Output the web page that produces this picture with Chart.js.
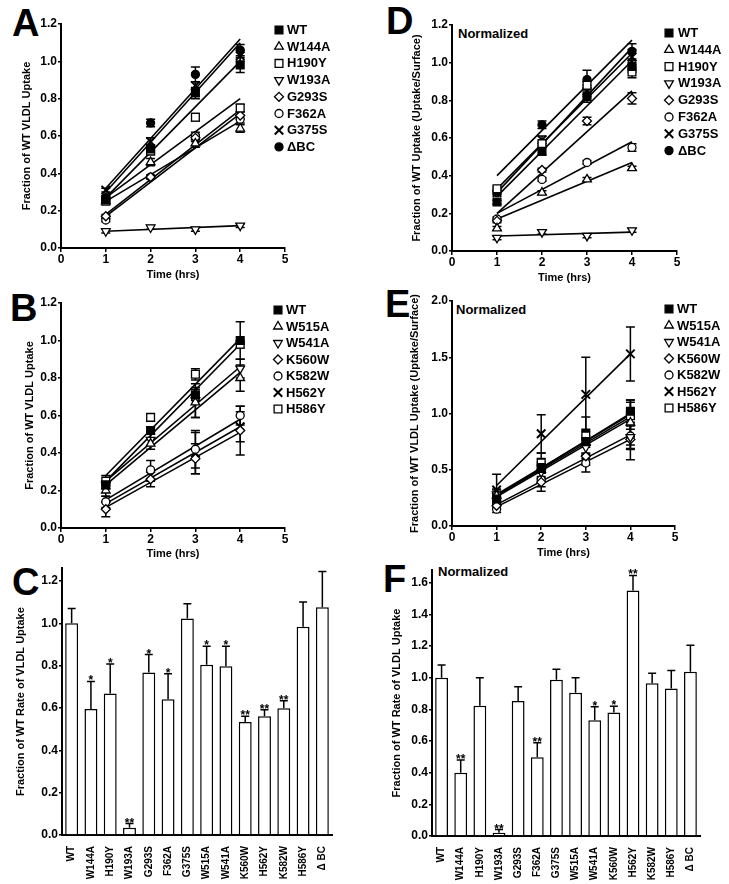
<!DOCTYPE html>
<html lang="en">
<head>
<meta charset="UTF-8" />
<title>VLDL uptake by receptor mutants</title>
<script src="https://cdn.jsdelivr.net/npm/chart.js"></script>
<style>
  * { margin: 0; padding: 0; box-sizing: border-box; }
  body { width: 729px; height: 884px; background: #fff; position: relative; overflow: hidden;
         font-family: 'Liberation Sans', Arial, Helvetica, sans-serif; color: #000; }
  canvas { position: absolute; }
  .letter { position: absolute; font-size: 38px; font-weight: bold; line-height: 1; }
  .note { position: absolute; font-size: 13px; font-weight: bold; line-height: 1; }
  .key { position: absolute; font-size: 13px; font-weight: bold; line-height: 16px; white-space: nowrap; }
</style>
</head>
<body>

<div class="letter" style="left:12px; top:4px;">A</div>
<div class="letter" style="left:10px; top:289px;">B</div>
<div class="letter" style="left:12px; top:563px;">C</div>
<div class="letter" style="left:386px; top:2px;">D</div>
<div class="letter" style="left:385px; top:285px;">E</div>
<div class="letter" style="left:383px; top:560px;">F</div>
<div class="note" style="left:458px; top:27px;">Normalized</div>
<div class="note" style="left:456px; top:303px;">Normalized</div>
<div class="note" style="left:438px; top:565px;">Normalized</div>

<script>
  // ---- data ----
  const hours = [1, 2, 3, 4];
  const fitHours = [1, 4];
  const hourTicks = [0, 1, 2, 3, 4, 5];
  const uptakeTicks = [0, 0.2, 0.4, 0.6, 0.8, 1.0, 1.2];
  const uptakeTicksE = [0, 0.5, 1.0, 1.5, 2.0];
  const rateTicksF = [0, 0.2, 0.4, 0.6, 0.8, 1.0, 1.2, 1.4, 1.6];

  // A: raw uptake, first group of mutants
  const namesA = ['WT', 'W144A', 'H190Y', 'W193A', 'G293S', 'F362A', 'G375S', 'ΔBC'];
  const meansA = [
    [0.26, 0.53, 0.83, 0.98],
    [0.25, 0.46, 0.56, 0.64],
    [0.25, 0.52, 0.70, 0.75],
    [0.09, 0.11, 0.10, 0.12],
    [0.17, 0.38, 0.59, 0.71],
    [0.15, 0.38, 0.60, 0.69],
    [0.31, 0.57, 0.87, 1.03],
    [0.27, 0.67, 0.93, 1.06]
  ];
  const errA = [
    [0.01, 0.02, 0.03, 0.04],
    [0.01, 0.02, 0.02, 0.02],
    [0.01, 0.02, 0.02, 0.02],
    [0.01, 0.01, 0.01, 0.01],
    [0.01, 0.01, 0.02, 0.02],
    [0.01, 0.01, 0.02, 0.02],
    [0.01, 0.02, 0.02, 0.03],
    [0.01, 0.02, 0.04, 0.03]
  ];
  const fitLoA = [0.27, 0.25, 0.27, 0.09, 0.18, 0.17, 0.32, 0.30];
  const fitHiA = [1.00, 0.68, 0.80, 0.12, 0.74, 0.72, 1.12, 1.10];

  // D: normalized uptake, same mutants
  const meansD = [
    [0.26, 0.53, 0.82, 0.98],
    [0.12, 0.31, 0.38, 0.44],
    [0.33, 0.57, 0.88, 0.95],
    [0.07, 0.10, 0.08, 0.11],
    [0.16, 0.43, 0.69, 0.81],
    [0.17, 0.38, 0.47, 0.55],
    [0.31, 0.59, 0.85, 1.03],
    [0.31, 0.67, 0.91, 1.06]
  ];
  const errD = [
    [0.01, 0.02, 0.03, 0.03],
    [0.01, 0.01, 0.01, 0.01],
    [0.01, 0.01, 0.02, 0.03],
    [0.01, 0.01, 0.01, 0.01],
    [0.01, 0.01, 0.02, 0.03],
    [0.01, 0.01, 0.01, 0.02],
    [0.01, 0.02, 0.03, 0.04],
    [0.01, 0.02, 0.05, 0.04]
  ];
  const fitLoD = [0.29, 0.17, 0.33, 0.08, 0.20, 0.20, 0.31, 0.40];
  const fitHiD = [1.01, 0.47, 1.05, 0.10, 0.85, 0.58, 1.08, 1.12];

  // B: raw uptake, second group
  const namesB = ['WT', 'W515A', 'W541A', 'K560W', 'K582W', 'H562Y', 'H586Y'];
  const meansB = [
    [0.23, 0.52, 0.71, 1.00],
    [0.20, 0.45, 0.67, 0.80],
    [0.23, 0.47, 0.68, 0.85],
    [0.10, 0.26, 0.37, 0.52],
    [0.14, 0.31, 0.42, 0.60],
    [0.12, 0.28, 0.40, 0.54],
    [0.25, 0.59, 0.82, 0.98]
  ];
  const errB = [
    [0.02, 0.02, 0.03, 0.10],
    [0.03, 0.03, 0.08, 0.07],
    [0.02, 0.03, 0.09, 0.05],
    [0.04, 0.04, 0.08, 0.13],
    [0.03, 0.05, 0.10, 0.05],
    [0.02, 0.03, 0.11, 0.08],
    [0.03, 0.02, 0.03, 0.02]
  ];
  const fitLoB = [0.25, 0.23, 0.25, 0.11, 0.15, 0.13, 0.28];
  const fitHiB = [0.98, 0.83, 0.86, 0.51, 0.58, 0.54, 1.01];

  // E: normalized uptake, second group
  const meansE = [
    [0.24, 0.52, 0.75, 1.02],
    [0.27, 0.50, 0.74, 0.92],
    [0.28, 0.48, 0.70, 0.79],
    [0.18, 0.39, 0.62, 0.77],
    [0.15, 0.41, 0.56, 0.80],
    [0.32, 0.82, 1.17, 1.53],
    [0.22, 0.56, 0.80, 0.98]
  ];
  const errE = [
    [0.04, 0.08, 0.10, 0.10],
    [0.05, 0.07, 0.12, 0.20],
    [0.05, 0.06, 0.10, 0.10],
    [0.03, 0.08, 0.08, 0.18],
    [0.03, 0.06, 0.08, 0.12],
    [0.14, 0.17, 0.33, 0.24],
    [0.04, 0.09, 0.17, 0.12]
  ];
  const fitLoE = [0.27, 0.27, 0.26, 0.19, 0.17, 0.36, 0.28];
  const fitHiE = [1.00, 0.97, 0.95, 0.81, 0.77, 1.53, 0.99];

  // C / F: rate of uptake relative to WT
  const mutants = ['WT', 'W144A', 'H190Y', 'W193A', 'G293S', 'F362A', 'G375S',
                   'W515A', 'W541A', 'K560W', 'H562Y', 'K582W', 'H586Y', 'Δ BC'];
  const ratesC = [1.00, 0.595, 0.668, 0.034, 0.767, 0.641, 1.022, 0.804, 0.797, 0.534, 0.561, 0.599, 0.984, 1.075];
  const errC   = [0.07, 0.13, 0.14, 0.02, 0.085, 0.12, 0.07, 0.087, 0.094, 0.027, 0.03, 0.035, 0.116, 0.17];
  const starsC = ['', '*', '*', '**', '*', '*', '', '*', '*', '**', '**', '**', '', ''];
  const ratesF = [1.00, 0.40, 0.822, 0.021, 0.852, 0.498, 0.987, 0.905, 0.731, 0.78, 1.551, 0.964, 0.932, 1.038];
  const errF   = [0.08, 0.08, 0.178, 0.02, 0.091, 0.091, 0.066, 0.095, 0.085, 0.04, 0.095, 0.064, 0.113, 0.166];
  const starsF = ['', '**', '', '**', '', '**', '', '', '*', '*', '**', '', '', ''];

  // ---- marker styles ----
  const MARK = {
    sq:   { pointStyle: 'rect', fill: '#000', radius: 5.5 },
    osq:  { pointStyle: 'rect', fill: '#fff', radius: 5.5 },
    tri:  { pointStyle: 'triangle', fill: '#fff', radius: 5 },
    itri: { pointStyle: 'triangle', fill: '#fff', radius: 5, rotation: 180 },
    dia:  { pointStyle: 'rectRot', fill: '#fff', radius: 4.5 },
    circ: { pointStyle: 'circle', fill: '#fff', radius: 4 },
    x:    { pointStyle: 'crossRot', fill: '#fff', radius: 6, bw: 2 },
    dot:  { pointStyle: 'circle', fill: '#000', radius: 4 }
  };
  const marksA = ['sq', 'tri', 'osq', 'itri', 'dia', 'circ', 'x', 'dot'];
  const marksB = ['sq', 'tri', 'itri', 'dia', 'circ', 'x', 'osq'];

  Chart.defaults.font.family = "'Liberation Sans', Arial, Helvetica, sans-serif";
  Chart.defaults.color = '#000';
  Chart.defaults.animation = false;

  // error bars under the points of the time courses
  const pointErrors = {
    id: 'pointErrors',
    beforeDatasetsDraw(chart) {
      const ctx = chart.ctx, ys = chart.scales.y;
      chart.data.datasets.forEach((ds, i) => {
        if (!ds.errors) return;
        const meta = chart.getDatasetMeta(i);
        ctx.save();
        ctx.strokeStyle = '#000';
        ctx.lineWidth = 1.5;
        meta.data.forEach((pt, j) => {
          const v = ds.data[j].y, e = ds.errors[j];
          const top = ys.getPixelForValue(v + e), bot = ys.getPixelForValue(v - e);
          ctx.beginPath();
          ctx.moveTo(pt.x, top); ctx.lineTo(pt.x, bot);
          ctx.moveTo(pt.x - 4.5, top); ctx.lineTo(pt.x + 4.5, top);
          ctx.moveTo(pt.x - 4.5, bot); ctx.lineTo(pt.x + 4.5, bot);
          ctx.stroke();
        });
        ctx.restore();
      });
    }
  };

  // upward error bars and significance stars on the bars
  const barErrors = {
    id: 'barErrors',
    afterDatasetsDraw(chart) {
      const ctx = chart.ctx, ys = chart.scales.y;
      chart.data.datasets.forEach((ds, i) => {
        const meta = chart.getDatasetMeta(i);
        ctx.save();
        ctx.strokeStyle = '#000';
        ctx.fillStyle = '#000';
        ctx.lineWidth = 1.5;
        ctx.font = "bold 12px 'Liberation Sans', Arial, sans-serif";
        ctx.textAlign = 'center';
        ctx.textBaseline = 'alphabetic';
        meta.data.forEach((bar, j) => {
          const cap = ys.getPixelForValue(ds.data[j] + ds.errors[j]);
          ctx.beginPath();
          ctx.moveTo(bar.x, bar.y); ctx.lineTo(bar.x, cap);
          ctx.moveTo(bar.x - 4, cap); ctx.lineTo(bar.x + 4, cap);
          ctx.stroke();
          if (ds.stars[j]) ctx.fillText(ds.stars[j], bar.x, cap + 3);
        });
        ctx.restore();
      });
    }
  };

  function addCanvas(box) {
    const c = document.createElement('canvas');
    c.width = box.w; c.height = box.h;
    c.style.left = box.x + 'px'; c.style.top = box.y + 'px';
    document.body.appendChild(c);
    return c;
  }

  function yAxis(box, plot, titleX, title, ticks, max, size) {
    return {
      type: 'linear', min: 0, max: max,
      afterBuildTicks: s => { s.ticks = ticks.map(v => ({ value: v })); },
      afterFit: s => { s.width = plot.l - box.x; },
      ticks: { font: { size: size, weight: 'bold' }, padding: 1, callback: v => v.toFixed(1) },
      grid: { drawOnChartArea: false, color: '#000', lineWidth: 1.5, tickLength: 3 },
      border: { color: '#000', width: 2 },
      title: { display: true, text: title, font: { size: 11, weight: 'bold' },
               padding: { top: titleX - box.x - 6.6, bottom: 0 } }
    };
  }

  function linePanel(box, plot, titleX, xTitleY, title, yTicks, yMax, names, marks, means, errs, lo, hi) {
    const datasets = [];
    names.forEach((n, i) => {
      const m = MARK[marks[i]];
      datasets.push({
        label: n, order: 1, showLine: false,
        data: hours.map((h, j) => ({ x: h, y: means[i][j] })),
        errors: errs[i],
        pointStyle: m.pointStyle, pointRotation: m.rotation || 0, pointRadius: m.radius,
        pointBackgroundColor: m.fill, pointBorderColor: '#000', pointBorderWidth: m.bw || 1.3
      });
      datasets.push({
        label: n + ' fit', order: 2, showLine: true, pointRadius: 0,
        data: [{ x: fitHours[0], y: lo[i] }, { x: fitHours[1], y: hi[i] }],
        borderColor: '#000', borderWidth: 1.6
      });
    });
    new Chart(addCanvas(box), {
      type: 'scatter',
      data: { datasets },
      options: {
        responsive: false, events: [],
        layout: { autoPadding: false,
                  padding: { left: 0, top: plot.t - box.y, right: box.x + box.w - plot.r, bottom: 0 } },
        plugins: { legend: { display: false }, tooltip: { enabled: false } },
        scales: {
          x: {
            type: 'linear', min: 0, max: 5,
            afterBuildTicks: s => { s.ticks = hourTicks.map(v => ({ value: v })); },
            afterFit: s => { s.height = box.y + box.h - plot.b; },
            ticks: { font: { size: 12, weight: 'bold' }, padding: 0 },
            grid: { drawOnChartArea: false, color: '#000', lineWidth: 1.5, tickLength: 4 },
            border: { color: '#000', width: 2 },
            title: { display: true, text: 'Time (hrs)', font: { size: 11, weight: 'bold' },
                     padding: { top: 0, bottom: box.y + box.h - xTitleY - 6.6 } }
          },
          y: yAxis(box, plot, titleX, title, yTicks, yMax, 12)
        }
      },
      plugins: [pointErrors]
    });
  }

  function barPanel(box, plot, titleX, yTicks, yMax, rates, errs, stars) {
    new Chart(addCanvas(box), {
      type: 'bar',
      data: {
        labels: mutants,
        datasets: [{ data: rates, errors: errs, stars: stars,
                     backgroundColor: '#fff', borderColor: '#000', borderWidth: 1.5,
                     barPercentage: 0.67, categoryPercentage: 1 }]
      },
      options: {
        responsive: false, events: [],
        layout: { autoPadding: false,
                  padding: { left: 0, top: plot.t - box.y, right: box.x + box.w - plot.r, bottom: 0 } },
        plugins: { legend: { display: false }, tooltip: { enabled: false } },
        scales: {
          x: {
            afterFit: s => { s.height = box.y + box.h - plot.b; },
            ticks: { font: { size: 10, weight: 'bold' }, minRotation: 90, maxRotation: 90, autoSkip: false, padding: 3 },
            grid: { display: false },
            border: { color: '#000', width: 2 }
          },
          y: yAxis(box, plot, titleX, 'Fraction of WT Rate of VLDL Uptake', yTicks, yMax, 12)
        }
      },
      plugins: [barErrors]
    });
  }

  function legend(names, marks, mx, tx, y0, step) {
    names.forEach((n, i) => {
      const cy = y0 + i * step;
      const c = addCanvas({ x: mx - 8, y: Math.round(cy) - 8, w: 16, h: 16 });
      const m = MARK[marks[i]];
      const ctx = c.getContext('2d');
      ctx.fillStyle = m.fill; ctx.strokeStyle = '#000'; ctx.lineWidth = m.bw || 1.3;
      if (Chart.helpers && Chart.helpers.drawPoint) {
        Chart.helpers.drawPoint(ctx, { pointStyle: m.pointStyle, rotation: m.rotation || 0,
                                       radius: m.radius, borderWidth: m.bw || 1.3 },
                                8, cy - Math.round(cy) + 8);
      }
      const d = document.createElement('div');
      d.className = 'key';
      d.style.left = tx + 'px';
      d.style.top = (cy - 8) + 'px';
      d.textContent = n;
      document.body.appendChild(d);
    });
  }

  linePanel({ x: 0, y: 0, w: 300, h: 284 }, { l: 61, t: 24, r: 285, b: 248 }, 27, 275,
            'Fraction of WT VLDL Uptake', uptakeTicks, 1.2,
            namesA, marksA, meansA, errA, fitLoA, fitHiA);
  linePanel({ x: 0, y: 284, w: 300, h: 278 }, { l: 61, t: 303, r: 285, b: 528 }, 30, 554,
            'Fraction of WT VLDL Uptake', uptakeTicks, 1.2,
            namesB, marksB, meansB, errB, fitLoB, fitHiB);
  linePanel({ x: 365, y: 0, w: 364, h: 285 }, { l: 452, t: 25, r: 677, b: 251 }, 417, 278,
            'Fraction of WT Uptake (Uptake/Surface)', uptakeTicks, 1.2,
            namesA, marksA, meansD, errD, fitLoD, fitHiD);
  linePanel({ x: 365, y: 284, w: 364, h: 278 }, { l: 452, t: 301, r: 675, b: 526 }, 415, 553,
            'Fraction of WT VLDL Uptake (Uptake/Surface)', uptakeTicksE, 2.0,
            namesB, marksB, meansE, errE, fitLoE, fitHiE);
  barPanel({ x: 0, y: 560, w: 340, h: 324 }, { l: 62, t: 565, r: 332, b: 835 }, 21,
           uptakeTicks, 1.26, ratesC, errC, starsC);
  barPanel({ x: 365, y: 560, w: 364, h: 324 }, { l: 432, t: 570, r: 700, b: 836 }, 397,
           rateTicksF, 1.68, ratesF, errF, starsF);

  legend(namesA, marksA, 279, 287, 30, 16.7);
  legend(namesB, marksB, 278, 286, 310, 16.5);
  legend(namesA, marksA, 669, 678, 33, 16.8);
  legend(namesB, marksB, 669, 677, 309, 16.5);
</script>
</body>
</html>
